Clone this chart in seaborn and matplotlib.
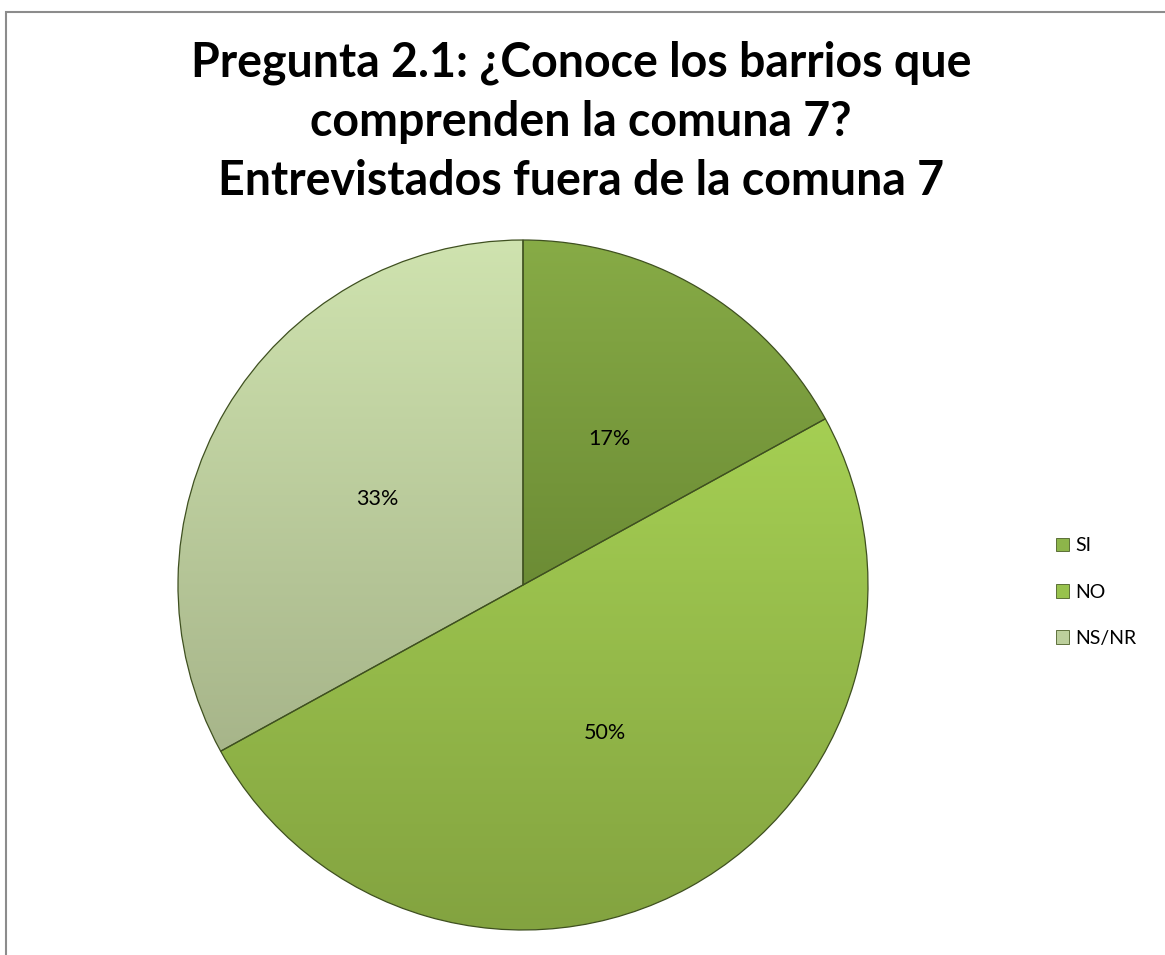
import numpy as np
import seaborn as sns
import matplotlib.pyplot as plt
from matplotlib.colors import to_rgb
from matplotlib.patches import Rectangle

# datos
categorias = ["SI", "NO", "NS/NR"]
porcentajes = [17, 50, 33]
titulo = "Pregunta 2.1: ¿Conoce los barrios que\ncomprenden la comuna 7?\nEntrevistados fuera de la comuna 7"

# colores (arriba, abajo) para el degradado de cada porcion
col_arriba = ["#87ab46", "#a5cf53", "#cfe3af"]
col_abajo = ["#6c8c35", "#83a340", "#a7b58a"]

sns.set_style("white")
plt.rcParams["font.family"] = ["Lato", "DejaVu Sans"]
plt.rcParams["text.color"] = "black"

fig = plt.figure(figsize=(11.65, 9.55), dpi=100)

# marco del grafico (se sale por la derecha y por abajo)
fig.patches.append(Rectangle((6 / 1165, -0.05), 1.2, 1 - 12 / 955 + 0.05,
                             transform=fig.transFigure, fill=False,
                             edgecolor="#8c8c8c", linewidth=1.5))

ax = fig.add_axes([178 / 1165, 25 / 955, 690 / 1165, 690 / 955])
wedges, textos, autotextos = ax.pie(
    porcentajes, labels=None, startangle=90, counterclock=False,
    autopct="%1.0f%%", pctdistance=0.49, radius=1,
    wedgeprops=dict(edgecolor="#3f5020", linewidth=0.9),
    textprops=dict(fontsize=15.5, color="black"))

for w, c1, c2 in zip(wedges, col_arriba, col_abajo):
    bb = w.get_path().get_extents()
    a = np.array(to_rgb(c1))
    b = np.array(to_rgb(c2))
    t = np.linspace(0, 1, 256)[:, None]
    grad = (a * (1 - t) + b * t)[:, None, :]
    im = ax.imshow(grad, extent=(bb.x0, bb.x1, bb.y0, bb.y1), origin="upper",
                   aspect="auto", zorder=w.get_zorder())
    im.set_clip_path(w)
    w.set_fill(False)
    w.set_zorder(w.get_zorder() + 0.1)

for t in autotextos:
    t.set_zorder(5)

ax.set_xlim(-1, 1)
ax.set_ylim(-1, 1)
ax.set_aspect("equal")
ax.axis("off")

fig.text(581 / 1165, 1 - 122 / 955, titulo, ha="center", va="center",
         fontsize=33.5, fontweight="bold", linespacing=1.42, color="black")

handles = [Rectangle((0, 0), 1, 1, facecolor=c, edgecolor="#4a5e26", linewidth=0.6)
           for c in ["#8db54a", "#98c24d", "#bccf9c"]]
fig.legend(handles, categorias, loc="center left", bbox_to_anchor=(1038 / 1165, 1 - 592 / 955),
           frameon=False, fontsize=14, handlelength=0.7, handleheight=0.7,
           handletextpad=0.3, labelspacing=1.5, labelcolor="black")

fig.savefig("out.png", dpi=100)
